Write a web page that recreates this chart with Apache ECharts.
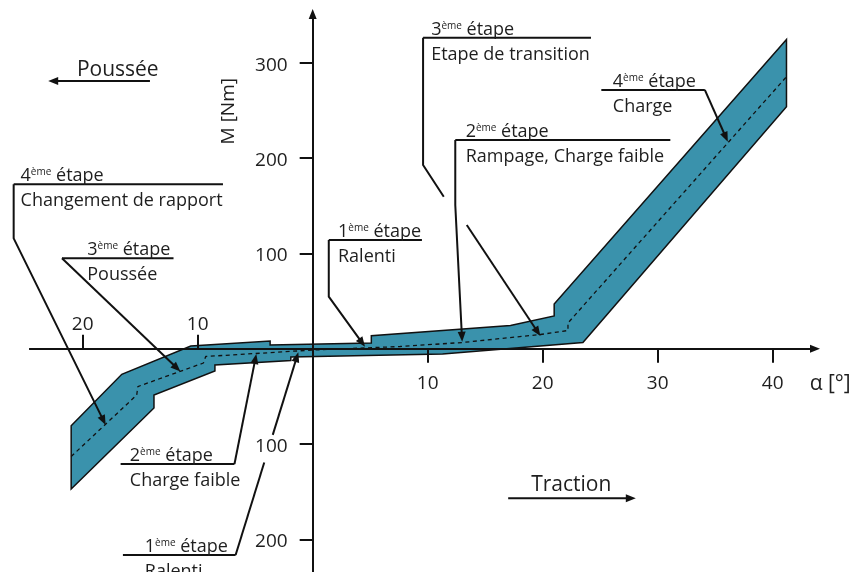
<!DOCTYPE html>
<html><head><meta charset="utf-8">
<script src="https://cdn.jsdelivr.net/npm/echarts@6/dist/echarts.min.js"></script>
<style>html,body{margin:0;padding:0;background:#fff}#c{width:856px;height:572px}</style>
</head><body><div id="c"></div>
<script>
// ---------- data (alpha [deg], M [Nm]) ----------
const bandUpper = [[-21.0,-80.8],[-16.6,-26.9],[-10.6,2.8],[-3.7,8.1],[-3.7,3.9],[5.1,6.0],[5.1,13.6],[17.2,24.3],[21.0,34.3],[21.0,46.9],[41.2,324.5]];
const bandLower = [[41.2,253.9],[23.5,6.5],[11.3,-5.6],[-1.9,-8.7],[-1.9,-12.4],[-8.5,-17.1],[-8.5,-23.4],[-13.8,-48.6],[-13.8,-62.2],[-21.0,-147.2]];
const centerLine = [[-21.0,-113.1],[-15.3,-48.6],[-15.2,-39.7],[-9.5,-15.0],[-9.3,-8.2],[0.0,-1.4],[7.6,2.3],[13.0,6.5],[19.8,14.9],[22.2,19.1],[22.2,27.0],[41.2,285.4]];
const xTicksPos = [10,20,30,40];
const xTicksNeg = [-20,-10];
const yTicks = [-200,-100,100,200,300];
const stageNums = ['4','3','2','1','1','2','3','4'];
const stageTitles = ['Changement de rapport','Poussée','Charge faible','Ralenti','Ralenti','Rampage, Charge faible','Etape de transition','Charge'];

// ---------- layout ----------
const X_MIN=-24.58, X_MAX=43.68, Y_MIN=-234.3, Y_MAX=351.2;
const FF='"Open Sans", sans-serif', COL='#111', TXT='#1e1e1e', BAND='#3a92ac';
const noteLayout = [
  {x1:-26.0,x2:-7.8,y:172.5,tx:-25.4,leader:[[-26.0,172.5],[-26.0,115.8],[-18.0,-80.1]],arrow:true},
  {x1:-21.8,x2:-12.1,y:94.9,tx:-19.6,leader:[[-21.8,94.9],[-11.5,-23.9]],arrow:true},
  {x1:-16.7,x2:-6.8,y:-121.0,tx:-15.9,leader:[[-6.8,-121.0],[-4.9,-5.6]],arrow:true},
  {x1:-16.5,x2:-6.7,y:-216.5,tx:-14.6,leader:[[-6.7,-216.5],[-1.25,-3.8]],arrow:true,gap:[0.47,0.61]},
  {x1:1.4,x2:9.5,y:114.1,tx:2.2,leader:[[1.4,114.1],[1.4,54.6],[4.55,2.1]],arrow:true},
  {x1:12.4,x2:31.1,y:219.0,tx:13.3,leader:[[12.4,219.0],[12.4,150.8],[13.0,7.3]],arrow:true},
  {x1:9.6,x2:24.2,y:326.3,tx:10.3,leader:[[9.6,326.3],[9.6,192.8],[11.4,159.5]],arrow:false},
  {x1:25.1,x2:34.1,y:271.5,tx:26.1,leader:[[34.1,271.5],[36.1,217.2]],arrow:true}
];
const extraArrows = [[[13.4,129.8],[19.8,13.3]]];

const chart = echarts.init(document.getElementById('c'), null, {renderer:'canvas'});
const tickStyle = {color:COL, width:2};
const option = {
  animation:false,
  backgroundColor:'#fff',
  grid:{left:30,right:41,top:14,bottom:0,containLabel:false,outerBoundsMode:'none'},
  xAxis:[
    {type:'value',min:X_MIN,max:X_MAX,position:'bottom',z:5,
     axisLine:{show:true,onZero:true,symbol:['none','triangle'],symbolSize:[8,10],lineStyle:{color:COL,width:2}},
     axisTick:{show:true,customValues:xTicksPos,length:14,lineStyle:tickStyle},
     axisLabel:{show:false},
     splitLine:{show:false}},
    {type:'value',min:X_MIN,max:X_MAX,position:'top',z:5,
     axisLine:{show:true,onZero:true,onZeroAxisIndex:0,lineStyle:{color:COL,width:2}},
     axisTick:{show:true,customValues:xTicksNeg,length:14,lineStyle:tickStyle},
     axisLabel:{show:false},
     splitLine:{show:false}}
  ],
  yAxis:[
    {type:'value',min:Y_MIN,max:Y_MAX,position:'left',z:5,
     axisLine:{show:true,onZero:true,symbol:['none','triangle'],symbolSize:[8,10],lineStyle:{color:COL,width:2}},
     axisTick:{show:true,customValues:yTicks,length:13,lineStyle:tickStyle},
     axisLabel:{show:false},
     splitLine:{show:false}}
  ],
  series:[
    {type:'custom',name:'band',coordinateSystem:'cartesian2d',xAxisIndex:0,yAxisIndex:0,z:1,silent:true,
     data:[[0,0]],
     renderItem:function(params,api){
       const pts = bandUpper.concat(bandLower).map(p=>api.coord(p));
       return {type:'polygon',shape:{points:pts},style:{fill:BAND,stroke:COL,lineWidth:1.5}};
     }},
    {type:'line',name:'median',xAxisIndex:0,yAxisIndex:0,z:2,silent:true,data:centerLine,
     showSymbol:false,symbol:'none',lineStyle:{color:COL,width:1.3,type:[4,3.5]}}
  ]
};
chart.setOption(option);

// ---------- annotations & tick labels ----------
const P = p => chart.convertToPixel({xAxisIndex:0,yAxisIndex:0}, p);
const els = [];
function pline(pts){ els.push({type:'polyline',silent:true,z:10,shape:{points:pts},style:{stroke:COL,lineWidth:2,fill:null}}); }
function head(a,b,len,hw){
  const dx=b[0]-a[0], dy=b[1]-a[1], L=Math.hypot(dx,dy), ux=dx/L, uy=dy/L;
  const bx=b[0]-ux*len, by=b[1]-uy*len;
  els.push({type:'polygon',silent:true,z:10,shape:{points:[[b[0],b[1]],[bx-uy*hw,by+ux*hw],[bx+uy*hw,by-ux*hw]]},style:{fill:COL}});
  return [b[0]-ux*len*0.6, b[1]-uy*len*0.6];
}
function txt(x,y,str,o){
  els.push({type:'text',silent:true,z:11,x:x,y:y,style:Object.assign({text:str,fill:TXT,fontFamily:FF,fontSize:18,align:'left',textAlign:'left',verticalAlign:'top',textVerticalAlign:'top'},o||{})});
}
// tick labels (positions from the axis scale)
const mid = {verticalAlign:'middle',textVerticalAlign:'middle'};
xTicksPos.forEach(v=>{ const p=P([v,0]); txt(p[0],p[1]+35,String(v),Object.assign({fontSize:19,align:'center',textAlign:'center'},mid)); });
xTicksNeg.forEach(v=>{ const p=P([v,0]); txt(p[0],p[1]-24,String(Math.abs(v)),Object.assign({fontSize:19,align:'center',textAlign:'center'},mid)); });
yTicks.forEach(v=>{ const p=P([0,v]); txt(p[0]-25,p[1]+2.5,String(Math.abs(v)),Object.assign({fontSize:19,align:'right',textAlign:'right'},mid)); });

const rich = {n:{fontSize:18,fontFamily:FF,fill:TXT,color:TXT},s:{fontSize:10,fontFamily:FF,fill:TXT,color:TXT,verticalAlign:'top'}};
noteLayout.forEach((n,i)=>{
  const a=P([n.x1,n.y]), b=P([n.x2,n.y]);
  pline([a,b]);
  let pts = n.leader.map(P);
  if(n.arrow){ const e=head(pts[pts.length-2],pts[pts.length-1],10,4); pts[pts.length-1]=e; }
  if(n.gap){
    const s=pts[0], e=pts[pts.length-1];
    const g1=[s[0]+(e[0]-s[0])*n.gap[0], s[1]+(e[1]-s[1])*n.gap[0]];
    const g2=[s[0]+(e[0]-s[0])*n.gap[1], s[1]+(e[1]-s[1])*n.gap[1]];
    pline([s,g1]); pline([g2,e]);
  } else pline(pts);
  const t=P([n.tx,n.y]);
  txt(t[0],t[1]+1,'{n|'+stageNums[i]+'}{s|ème}{n| étape}',{verticalAlign:'bottom',textVerticalAlign:'bottom',rich:rich});
  txt(t[0],t[1]+8,stageTitles[i]);
});
extraArrows.forEach(seg=>{
  const pts=seg.map(P); const e=head(pts[0],pts[1],10,4); pline([pts[0],e]);
});
// direction labels and axis titles
(function(){
  const a=P([-14.15,280.9]), b=P([-23.0,280.9]);
  const e=head(a,b,10,4); pline([a,e]);
  const t=P([-20.5,280.9]); txt(t[0],t[1],'Poussée',{fontSize:21,verticalAlign:'bottom',textVerticalAlign:'bottom'});
  const c=P([17.0,-157.0]), d=P([28.1,-157.0]);
  const f=head(c,d,10,4); pline([c,f]);
  const u=P([19.0,-157.0]); txt(u[0],u[1]-2.5,'Traction',{fontSize:21,verticalAlign:'bottom',textVerticalAlign:'bottom'});
  const m=P([-7.3,249.2]); els.push({type:'text',silent:true,z:11,x:m[0],y:m[1],rotation:Math.PI/2,style:{text:'M [Nm]',fill:TXT,fontFamily:FF,fontSize:19,align:'center',textAlign:'center',verticalAlign:'middle',textVerticalAlign:'middle'}});
  const al=P([45.0,-37.0]); txt(al[0],al[1],'α [°]',{fontSize:21,align:'center',textAlign:'center',verticalAlign:'middle',textVerticalAlign:'middle'});
})();
chart.setOption({graphic:els});
</script></body></html>
